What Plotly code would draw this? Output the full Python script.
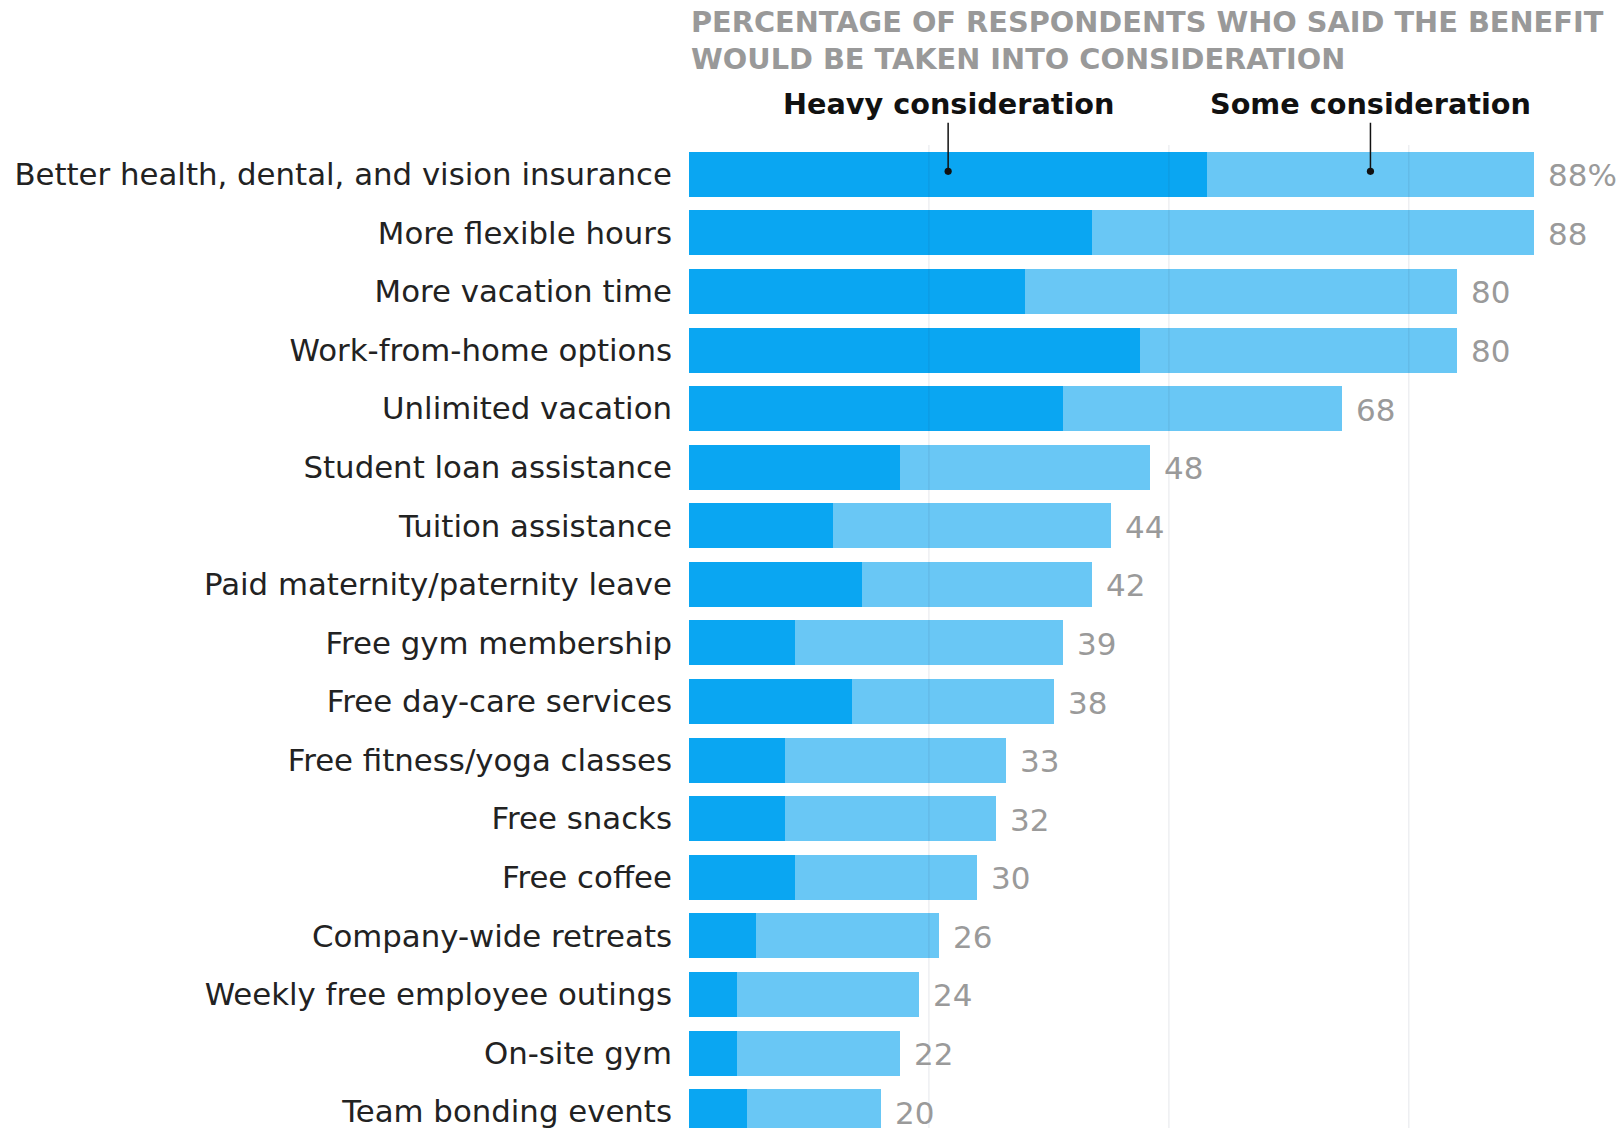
import plotly.graph_objects as go

categories = [
    "Better health, dental, and vision insurance",
    "More flexible hours",
    "More vacation time",
    "Work-from-home options",
    "Unlimited vacation",
    "Student loan assistance",
    "Tuition assistance",
    "Paid maternity/paternity leave",
    "Free gym membership",
    "Free day-care services",
    "Free fitness/yoga classes",
    "Free snacks",
    "Free coffee",
    "Company-wide retreats",
    "Weekly free employee outings",
    "On-site gym",
    "Team bonding events",
]
heavy = [54, 42, 35, 47, 39, 22, 15, 18, 11, 17, 10, 10, 11, 7, 5, 5, 6]
total = [88, 88, 80, 80, 68, 48, 44, 42, 39, 38, 33, 32, 30, 26, 24, 22, 20]
some = [t - h for t, h in zip(total, heavy)]
value_labels = ["88%"] + [str(t) for t in total[1:]]
gridlines = [25, 50, 75]

HEAVY_COLOR = "#0aa6f2"
SOME_COLOR = "#69c7f5"
FONT = "DejaVu Sans"

fig = go.Figure()
fig.add_trace(go.Bar(y=categories, x=heavy, orientation="h", name="Heavy consideration",
                     marker=dict(color=HEAVY_COLOR, line=dict(width=0)), hoverinfo="x+y"))
fig.add_trace(go.Bar(y=categories, x=some, orientation="h", name="Some consideration",
                     marker=dict(color=SOME_COLOR, line=dict(width=0)), hoverinfo="x+y"))

shapes = []
for g in gridlines:
    shapes.append(dict(type="line", xref="x", yref="paper", x0=g, x1=g, y0=0, y1=1,
                       line=dict(color="rgba(40,60,90,0.12)", width=1), layer="above"))

annotations = []
for c, t, lab in zip(categories, total, value_labels):
    annotations.append(dict(x=t, y=c, xref="x", yref="y", text=lab, showarrow=False,
                            xanchor="left", yanchor="middle", xshift=12, yshift=-1,
                            font=dict(family=FONT, size=31, color="#9a9a9a")))

# legend call-outs pointing into the first bar
for xpos, label in [(heavy[0] / 2, "Heavy consideration"),
                    (heavy[0] + some[0] / 2, "Some consideration")]:
    annotations.append(dict(x=xpos, y=categories[0], xref="x", yref="y",
                            text="<b>" + label + "</b>", showarrow=True,
                            ax=0, ay=-67, axref="pixel", ayref="pixel", yshift=3,
                            arrowhead=6, arrowsize=1.2, arrowwidth=1.5, arrowcolor="#111",
                            startstandoff=0, standoff=0,
                            font=dict(family=FONT, size=28.7, color="#111")))

annotations.append(dict(x=0, xref="x", y=1.1065, yref="paper", xanchor="left", yanchor="middle",
                        align="left", showarrow=False,
                        text="<b>PERCENTAGE OF RESPONDENTS WHO SAID THE BENEFIT<br>WOULD BE TAKEN INTO CONSIDERATION</b>",
                        font=dict(family=FONT, size=28.8, color="#999999")))

fig.update_layout(
    barmode="stack",
    bargap=0.232,
    width=1624, height=1128,
    margin=dict(l=689, r=4, t=145, b=0, autoexpand=False),
    paper_bgcolor="white", plot_bgcolor="white",
    showlegend=False,
    shapes=shapes,
    annotations=annotations,
    xaxis=dict(range=[0, 97], showgrid=False, zeroline=False, showticklabels=False,
               showline=False, ticks=""),
    yaxis=dict(type="category", range=[16.28, -0.5], showgrid=False, zeroline=False,
               showline=False, ticks="", ticklabelstandoff=16,
               tickfont=dict(family=FONT, size=30.8, color="#222222")),
)

fig.write_html("out.html")
